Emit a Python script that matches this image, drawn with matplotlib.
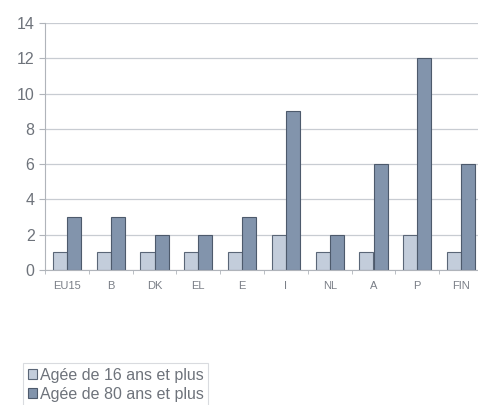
import numpy as np
import matplotlib.pyplot as plt

plt.rcParams['font.family'] = ['Liberation Sans', 'DejaVu Sans']

countries = ['EU15', 'B', 'DK', 'EL', 'E', 'I', 'NL', 'A', 'P', 'FIN']
age16 = [1, 1, 1, 1, 1, 2, 1, 1, 2, 1]
age80 = [3, 3, 2, 2, 3, 9, 2, 6, 12, 6]
labels = ['Agée de 16 ans et plus', 'Agée de 80 ans et plus']

fig = plt.figure(figsize=(4.78, 4.05), dpi=100)
ax = fig.add_axes([45 / 478, 1 - 270 / 405, 438 / 478, 247 / 405])

x = np.arange(len(countries))
w = 0.32
ax.bar(x - w / 2, age16, w, color='#c3cddb', edgecolor='#5a6677', linewidth=0.8, label=labels[0])
ax.bar(x + w / 2, age80, w, color='#8294ac', edgecolor='#4d5a6c', linewidth=0.8, label=labels[1])

ax.set_xlim(-0.5, len(countries) - 0.5)
ax.set_ylim(0, 14)
ax.set_yticks(range(0, 15, 2))
ax.yaxis.grid(True, color='#c8ccd2', linewidth=0.9)
ax.set_axisbelow(True)

ax.set_xticks(x)
ax.set_xticklabels(countries)
ax.set_xticks(np.arange(-0.5, len(countries), 1), minor=True)
ax.tick_params(axis='x', which='major', length=0, labelsize=8, colors='#7a7f87', pad=8)
ax.tick_params(axis='x', which='minor', length=3, color='#b0b4ba')
ax.tick_params(axis='y', labelsize=11.5, colors='#6e737b', length=4, color='#b0b4ba')

for s in ['top', 'right']:
    ax.spines[s].set_visible(False)
ax.spines['left'].set_color('#b0b4ba')
ax.spines['bottom'].set_color('#b0b4ba')

leg = fig.legend(loc='upper left', bbox_to_anchor=(15 / 478, 1 - 355 / 405), fontsize=11.5,
                 frameon=True, fancybox=False, edgecolor='#d0d3d8', handlelength=0.6,
                 handleheight=0.6, handletextpad=0.15, labelspacing=0.25, borderpad=0.3,
                 labelcolor='#6e737b')
leg.get_frame().set_linewidth(0.8)

fig.savefig('out.png', dpi=100)
